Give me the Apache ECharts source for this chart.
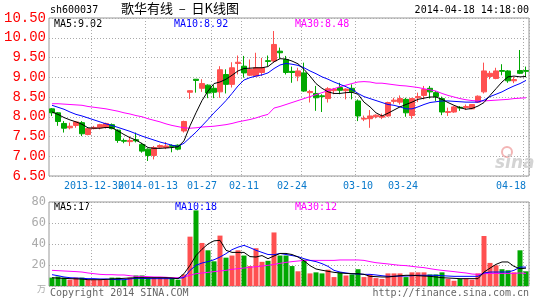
<!DOCTYPE html>
<html><head><meta charset="utf-8">
<script src="https://cdn.jsdelivr.net/npm/echarts@6/dist/echarts.min.js"></script>
<style>html,body{margin:0;padding:0;background:#fff}#c{width:545px;height:300px}</style>
</head><body><div id="c"></div><script>
// ---- data ----
const xLabels = ['2013-12-30','2014-01-13','01-27','02-11','02-24','03-10','03-24','04-18'];
const xLabelAt = [7,16,25,32,40,51,61,79];
const gridAt = [7,16,27,32,42,51,61,79];
const priceTicks = [6.5,7.0,7.5,8.0,8.5,9.0,9.5,10.0,10.5];
const volTicks = [0,20,40,60,80];
const volUnit = '万';

const openP = [8.20,8.10,7.83,7.72,7.78,7.85,7.55,7.70,7.72,7.73,7.80,7.66,7.40,7.37,7.42,7.30,7.18,7.02,7.23,7.22,7.27,7.28,7.64,8.62,8.95,8.72,8.80,8.72,8.63,9.07,8.82,9.35,9.28,9.05,9.03,9.12,9.42,9.41,9.66,9.45,9.15,9.03,9.11,8.61,8.59,8.53,8.46,8.66,8.74,8.66,8.72,8.40,7.94,7.95,8.00,7.99,8.02,8.39,8.37,8.44,8.03,8.48,8.54,8.72,8.61,8.46,8.11,8.12,8.24,8.23,8.20,8.37,8.63,9.02,8.97,9.17,9.16,8.91,9.17,9.17];
const closeP = [8.10,7.88,7.71,7.76,7.87,7.57,7.70,7.73,7.80,7.83,7.70,7.40,7.38,7.40,7.39,7.13,7.02,7.22,7.27,7.26,7.25,7.18,7.88,8.66,8.92,8.84,8.60,8.62,9.19,8.82,9.24,9.38,9.11,9.20,9.24,9.24,9.40,9.83,9.62,9.12,9.12,9.16,8.65,8.64,8.48,8.51,8.71,8.70,8.67,8.70,8.63,8.02,7.96,8.02,8.04,8.02,8.36,8.42,8.46,8.10,8.46,8.51,8.69,8.63,8.51,8.12,8.13,8.25,8.22,8.26,8.31,8.52,9.16,9.10,9.16,9.15,8.91,8.94,9.10,9.15];
const lowP = [8.02,7.77,7.60,7.68,7.72,7.51,7.53,7.68,7.68,7.70,7.68,7.34,7.33,7.26,7.35,7.09,6.88,6.92,7.20,7.18,7.10,7.15,7.60,8.45,8.61,8.63,8.47,8.47,8.48,8.59,8.74,9.07,8.99,9.03,9.02,9.03,9.28,9.37,9.47,9.07,8.86,8.90,8.63,8.36,8.15,8.12,8.36,8.57,8.57,8.44,8.44,7.89,7.89,7.72,7.96,7.94,8.00,8.33,8.31,8.00,7.95,8.37,8.44,8.46,8.40,8.04,8.02,8.10,8.15,8.17,8.19,8.35,8.59,8.95,8.95,9.05,8.86,8.85,9.08,9.00];
const highP = [8.22,8.12,7.89,7.85,7.89,7.89,7.72,7.77,7.82,7.85,7.83,7.68,7.45,7.50,7.60,7.34,7.20,7.26,7.30,7.36,7.30,7.30,7.90,8.67,8.95,8.95,8.82,8.80,9.28,9.20,9.38,9.55,9.54,9.45,9.62,9.49,9.55,10.17,9.75,9.54,9.27,9.24,9.37,8.68,8.78,8.57,8.75,8.73,8.86,8.72,8.82,8.44,8.03,8.17,8.06,8.08,8.38,8.48,8.54,8.48,8.48,8.61,8.78,8.78,8.65,8.51,8.23,8.27,8.27,8.31,8.32,8.54,9.37,9.16,9.24,9.33,9.18,9.01,9.69,9.27];

const ma5 = [8.12,8.06,7.98,7.92,7.87,7.81,7.72,7.71,7.71,7.73,7.72,7.64,7.55,7.47,7.41,7.32,7.22,7.20,7.20,7.21,7.22,7.24,7.39,7.77,8.10,8.41,8.65,8.84,8.88,8.95,9.05,9.16,9.22,9.23,9.24,9.24,9.27,9.39,9.47,9.46,9.41,9.34,9.20,9.03,8.84,8.72,8.63,8.59,8.59,8.61,8.62,8.57,8.37,8.25,8.10,8.02,8.09,8.17,8.25,8.31,8.37,8.44,8.47,8.50,8.50,8.44,8.36,8.29,8.23,8.19,8.21,8.27,8.36,8.54,8.71,8.88,9.01,9.03,9.01,9.02];
const ma10 = [8.29,8.24,8.19,8.12,8.06,8.02,7.97,7.92,7.87,7.82,7.78,7.73,7.68,7.63,7.57,7.51,7.46,7.41,7.36,7.32,7.28,7.25,7.33,7.47,7.61,7.77,7.93,8.10,8.25,8.41,8.59,8.78,8.93,8.99,9.03,9.06,9.11,9.22,9.31,9.35,9.33,9.30,9.24,9.16,9.09,9.01,8.95,8.88,8.82,8.76,8.69,8.59,8.51,8.46,8.41,8.36,8.31,8.29,8.25,8.20,8.20,8.25,8.31,8.36,8.38,8.40,8.40,8.39,8.38,8.37,8.37,8.37,8.42,8.51,8.57,8.63,8.71,8.78,8.84,8.92];
const ma30 = [8.33,8.33,8.32,8.31,8.30,8.29,8.26,8.24,8.22,8.20,8.17,8.14,8.10,8.07,8.03,8.00,7.95,7.91,7.87,7.82,7.78,7.75,7.72,7.71,7.72,7.74,7.75,7.76,7.78,7.80,7.83,7.87,7.90,7.93,7.97,8.02,8.06,8.22,8.26,8.31,8.36,8.41,8.46,8.51,8.56,8.61,8.66,8.71,8.76,8.80,8.84,8.88,8.89,8.88,8.85,8.85,8.83,8.81,8.79,8.78,8.76,8.74,8.71,8.68,8.65,8.59,8.54,8.50,8.46,8.43,8.41,8.40,8.40,8.41,8.42,8.43,8.44,8.46,8.47,8.48];

const volume = [8,9,8,6,8,8,6,6,6,6,8,8,6,8,10,10,8,8,8,8,8,6,11,47,72,41,34,23.5,48,27,29,34,29,19,36,23,24,51,29,29,19,14,25,12,13,12,15.5,8.5,13,10,11,16,8.5,11,7.5,6.7,12,12,12,8.5,13,13,13,11,11,13,6.7,5,6.7,7,6,12,47.6,22,19.7,16,15,13,34,14];
const vma5 = [7.9,7.5,7.3,7.0,6.8,6.6,6.0,6.0,6.0,6.3,6.7,7.0,7.3,7.6,7.9,7.9,7.9,7.9,7.9,7.9,7.6,7.0,11.7,19.7,29,35,40,43,43.5,34,32,32,32,28,27.6,29,26,28.6,31,31,30,27.6,24,19.4,16.2,15,14,13,12.4,12,11.7,11.7,11.1,9.2,8.9,8.6,8.6,9.2,9.8,10.2,10.2,9.8,9.5,9.2,8.6,7.9,7.6,7.3,7.0,7.0,7.0,7.0,13.3,17,20.6,22.9,22.9,18.7,16.5,17];
const vma10 = [10.8,9.8,8.6,7.9,7.6,7.3,7.0,7.0,6.7,6.7,6.3,6.0,6.0,6.7,7.3,7.3,7.0,7.0,7.0,7.0,7.0,7.3,7.9,14.9,19.7,21.9,23.2,25,27.6,30.8,34.6,37,38.7,36.5,34,32,30,29.8,31,30,29,28,26,24.4,23.2,21.3,18.7,14.9,13.3,12.4,11.7,11.4,11.1,11.1,10.5,9.8,9.2,9.2,9.5,9.5,9.8,10.2,10.2,10.2,10.2,9.8,9.5,9.2,9.2,9.2,9.2,9.2,12.4,13.3,13.3,13.3,13.3,14.9,18,18];
const vma30 = [14.9,14.6,14.3,14.0,13.7,13.3,12.4,11.7,11.1,10.8,10.8,10.5,10.5,9.8,9.2,9.2,8.9,8.6,8.6,8.3,7.9,7.9,8.6,10.2,11.7,12.4,13,13.7,14.3,14.9,15.9,16.5,17.1,17.8,18.4,19,19.7,20.6,21.6,22.5,23.2,23.8,24.4,24.4,24.4,24.4,24.4,24.4,24.8,24.8,24.8,24.8,24.4,23.2,22.2,21.6,21,20.3,19.7,19.4,18.7,18,17.5,16.5,15.6,14.9,14.3,13.7,13,12.4,11.4,11.1,11.7,12,12,12,12,12,12.4,12];

// ---- build ----
const categories = openP.map((_, i) => String(i));
const RED = '#ff5050', GREEN = '#00a800';
const kData = openP.map((o, i) => [o, closeP[i], lowP[i], highP[i]]);
const volData = volume.map((v, i) => ({ value: v, itemStyle: { color: closeP[i] >= openP[i] ? RED : GREEN } }));
const mono = 'DejaVu Sans Mono';
const dotted = { color: '#aaaaaa', width: 1, type: [1, 2] };
// split the date labels over two overlaid bottom axes so that the touching first pair both stay visible
const setA = xLabelAt.filter((_, k) => k % 2 === 1);
const setB = xLabelAt.filter((_, k) => k % 2 === 0);
const dateLabel = (v) => xLabels[xLabelAt.indexOf(Number(v))] || '';
const labelAxis = (set, extra) => Object.assign({ type: 'category', gridIndex: 0, position: 'bottom', offset: 0,
  data: categories, boundaryGap: true,
  axisLine: { show: false }, axisTick: { show: false },
  axisLabel: { interval: (i) => set.includes(i), formatter: dateLabel, hideOverlap: false,
    color: '#0a7acc', fontFamily: mono, fontSize: 10, margin: 5, alignMaxLabel: 'right' } }, extra);

const chart = echarts.init(document.getElementById('c'), null, { renderer: 'canvas' });
const lastTxt = (a, d) => a[a.length - 1].toFixed(d);
chart.setOption({
  animation: false,
  backgroundColor: '#fff',
  grid: [
    { left: 49, width: 480, top: 18, height: 158, show: true, borderColor: '#999', borderWidth: 1 },
    { left: 49, width: 480, top: 202, height: 84, show: true, borderColor: '#999', borderWidth: 1 }
  ],
  xAxis: [
    labelAxis(setA, { splitLine: { show: true, interval: (i) => gridAt.includes(i), lineStyle: dotted } }),
    { type: 'category', gridIndex: 1, data: categories, boundaryGap: true,
      axisLine: { show: false }, axisTick: { show: false }, axisLabel: { show: false },
      splitLine: { show: true, interval: (i) => gridAt.includes(i), lineStyle: dotted } },
    labelAxis(setB, { splitLine: { show: false } })
  ],
  yAxis: [
    { type: 'value', gridIndex: 0, min: priceTicks[0], max: priceTicks[priceTicks.length - 1], interval: 0.5,
      axisLine: { show: false }, axisTick: { show: false },
      axisLabel: { color: '#ff0000', fontFamily: 'Liberation Mono', fontSize: 14, margin: 3, formatter: (v) => v.toFixed(2) },
      splitLine: { show: true, lineStyle: dotted } },
    { type: 'value', gridIndex: 1, min: volTicks[0], max: volTicks[volTicks.length - 1], interval: 20,
      axisLine: { show: false }, axisTick: { show: false },
      axisLabel: { color: '#aaaaaa', fontFamily: mono, fontSize: 12, margin: 3,
        formatter: (v) => v === 0 ? '{u|' + volUnit + '}' : String(v),
        rich: { u: { fontSize: 9, color: '#aaaaaa', fontFamily: 'Noto Sans CJK SC', padding: [6, 0, 0, 0] } } },
      splitLine: { show: true, lineStyle: dotted } }
  ],
  series: [
    { type: 'candlestick', xAxisIndex: 0, yAxisIndex: 0, data: kData, barWidth: 5,
      itemStyle: { color: RED, color0: GREEN, borderColor: RED, borderColor0: GREEN, borderWidth: 1 } },
    { type: 'line', xAxisIndex: 0, yAxisIndex: 0, data: ma30, showSymbol: false, lineStyle: { color: '#ff00ff', width: 1 } },
    { type: 'line', xAxisIndex: 0, yAxisIndex: 0, data: ma10, showSymbol: false, lineStyle: { color: '#0000ff', width: 1 } },
    { type: 'line', xAxisIndex: 0, yAxisIndex: 0, data: ma5, showSymbol: false, lineStyle: { color: '#000000', width: 1 } },
    { type: 'bar', xAxisIndex: 1, yAxisIndex: 1, data: volData, barWidth: 5 },
    { type: 'line', xAxisIndex: 1, yAxisIndex: 1, data: vma30, showSymbol: false, lineStyle: { color: '#ff00ff', width: 1 } },
    { type: 'line', xAxisIndex: 1, yAxisIndex: 1, data: vma10, showSymbol: false, lineStyle: { color: '#0000ff', width: 1 } },
    { type: 'line', xAxisIndex: 1, yAxisIndex: 1, data: vma5, showSymbol: false, lineStyle: { color: '#000000', width: 1 } }
  ],
  graphic: [
    { type: 'text', left: 50, top: 5, style: { text: 'sh600037', font: '10px "DejaVu Sans Mono"', fill: '#000' } },
    { type: 'text', left: 121, top: 2, style: { text: '歌华有线  –  日K线图', font: '13px "Noto Sans CJK SC"', fill: '#000' } },
    { type: 'text', right: 16, top: 5, style: { text: '2014-04-18 14:18:00', font: '10px "DejaVu Sans Mono"', fill: '#000' } },
    { type: 'text', left: 54, top: 19, style: { text: 'MA5:' + lastTxt(ma5, 2), font: '10px "DejaVu Sans Mono"', fill: '#000' } },
    { type: 'text', left: 174, top: 19, style: { text: 'MA10:' + lastTxt(ma10, 2), font: '10px "DejaVu Sans Mono"', fill: '#0000ff' } },
    { type: 'text', left: 295, top: 19, style: { text: 'MA30:' + lastTxt(ma30, 2), font: '10px "DejaVu Sans Mono"', fill: '#ff00ff' } },
    { type: 'text', left: 54, top: 202, style: { text: 'MA5:' + lastTxt(vma5, 0), font: '10px "DejaVu Sans Mono"', fill: '#000' } },
    { type: 'text', left: 175, top: 202, style: { text: 'MA10:' + lastTxt(vma10, 0), font: '10px "DejaVu Sans Mono"', fill: '#0000ff' } },
    { type: 'text', left: 295, top: 202, style: { text: 'MA30:' + lastTxt(vma30, 0), font: '10px "DejaVu Sans Mono"', fill: '#ff00ff' } },
    { type: 'text', left: 50, top: 288, style: { text: 'Copyright 2014 SINA.COM', font: '10px "DejaVu Sans Mono"', fill: '#666' } },
    { type: 'text', right: 16, top: 288, style: { text: 'http://finance.sina.com.cn', font: '10px "DejaVu Sans Mono"', fill: '#666' } },
    { type: 'circle', shape: { cx: 507, cy: 152, r: 5 }, style: { fill: 'none', stroke: '#f3b5b5', lineWidth: 2 }, z: 0 },
    { type: 'text', left: 495, top: 155, style: { text: 'sina', font: 'italic bold 17px "DejaVu Sans"', fill: '#d4d4d4' }, z: 0 }
  ]
});
</script></body></html>
